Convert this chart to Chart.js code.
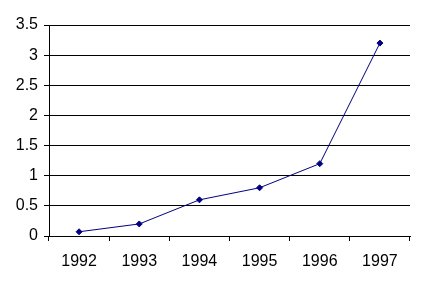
<!DOCTYPE html>
<html>
<head>
<meta charset="utf-8">
<script src="https://cdn.jsdelivr.net/npm/chart.js@4"></script>
<style>
  html, body { margin: 0; padding: 0; background: #fff; }
  #wrap { width: 422px; height: 284px; }
</style>
</head>
<body>
<div id="wrap"><canvas id="chart"></canvas></div>
<script>
const years = ['1992', '1993', '1994', '1995', '1996', '1997'];
const values = [0.07, 0.2, 0.6, 0.8, 1.2, 3.2];
const yTicks = [0, 0.5, 1, 1.5, 2, 2.5, 3, 3.5];

const ctx = document.getElementById('chart').getContext('2d');

const myChart = new Chart(ctx, {
    type: 'line',
    data: {
        labels: years,
        datasets: [{
            data: values,
            borderColor: '#000080',
            backgroundColor: '#000080',
            borderWidth: 1,
            pointStyle: 'rectRot',
            pointRadius: 3,
            pointBorderWidth: 1,
            tension: 0,
        }]
    },
    options: {
        responsive: true,
        maintainAspectRatio: false,
        animation: false,
        layout: { padding: { left: 0, right: 12, top: 25, bottom: 0 } },
        plugins: { legend: { display: false }, tooltip: { enabled: false } },
        scales: {
            x: {
                offset: true,
                grid: {
                    offset: true,
                    drawOnChartArea: false,
                    color: '#000',
                    tickLength: 5,
                },
                border: { color: '#000', width: 1 },
                ticks: {
                    color: '#000',
                    font: { family: 'Liberation Sans', size: 16 },
                    padding: 11,
                    maxRotation: 0,
                },
                afterFit: s => { s.height = 48; }
            },
            y: {
                min: 0,
                max: 3.5,
                afterBuildTicks: s => { s.ticks = yTicks.map(v => ({ value: v })); },
                grid: { color: '#000', tickLength: 5 },
                border: { color: '#000', width: 1 },
                ticks: {
                    color: '#000',
                    font: { family: 'Liberation Sans', size: 16 },
                    padding: 6,
                    callback: v => String(v),
                },
                afterFit: s => { s.width = 49; }
            }
        }
    }
});
</script>
</body>
</html>
